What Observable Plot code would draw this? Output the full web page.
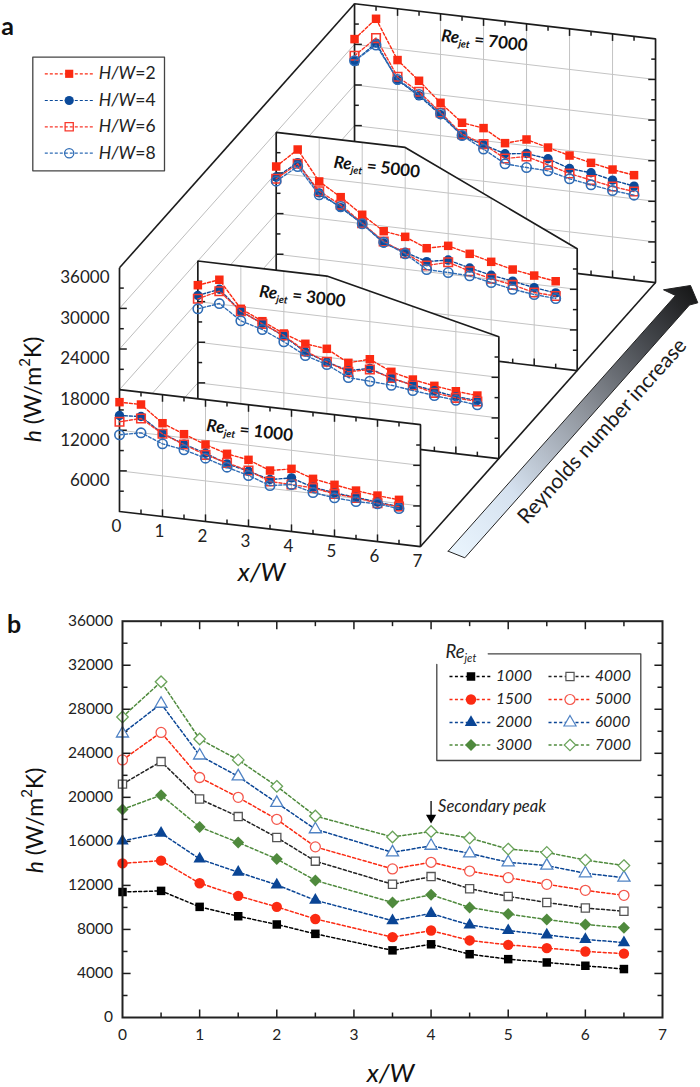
<!DOCTYPE html>
<html><head><meta charset="utf-8">
<script src="https://cdn.jsdelivr.net/npm/d3@7"></script>
<script src="https://cdn.jsdelivr.net/npm/@observablehq/plot@0.6"></script>
<style>
html,body{margin:0;padding:0;background:#fff}
#page{position:relative;width:700px;height:1087px;overflow:hidden}
#page svg{position:absolute;display:block;background:transparent;max-width:none}
</style></head><body><div id="page"></div>
<script>
// ---- panel a: x/W positions
const xTop=[0,0.5,1,1.5,2,2.5,3,3.5,4,4.5,5,5.5,6,6.5];
// ---- panel a values, h in W/m2K
const a1000hw2=[16150,16170,13780,12530,11370,10370,9850,8640,9260,8150,7640,7160,6790,6530];
const a1000hw4=[14180,14400,12260,11050,10090,8890,8170,7310,7930,6910,6450,6170,5800,5540];
const a1000hw6=[13250,14110,12220,11000,9850,9040,8270,7020,6940,6820,6310,6090,5660,5540];
const a1000hw8=[11330,11990,10740,10220,9350,8390,7530,6430,6940,6130,5720,5540,5570,5240];
const a3000hw2=[20430,21600,17680,16220,14770,13620,13250,11550,12450,10960,10190,9630,9200,8940];
const a3000hw4=[18900,20200,17300,15900,14400,12400,11300,10400,11100,10000,9400,8900,8400,8200];
const a3000hw6=[18420,19910,17330,15830,14480,12530,11330,10220,10930,10070,9310,8600,8230,8050];
const a3000hw8=[16940,18090,15910,14990,13550,11890,10930,9380,9200,8980,8570,8200,7870,7560];
const a5000hw2=[24960,27840,23490,21540,19310,17250,16790,15480,16200,15390,14580,13810,13290,12820];
const a5000hw4=[23400,25900,21800,20000,18000,15500,14520,13500,14100,13300,12600,12100,11500,11100];
const a5000hw6=[23150,25730,22050,20410,18070,15730,14370,12920,13780,12820,12070,11550,10780,10650];
const a5000hw8=[22790,25330,21520,20160,17980,15630,14280,12330,12260,12140,11520,10900,10490,10270];
const a7000hw2=[30780,34150,28420,25730,22850,20270,19850,18000,18910,18090,17280,16570,15950,15490];
const a7000hw4=[27530,30560,25460,23510,21080,18390,17390,16430,16840,16430,15360,15100,14390,13870];
const a7000hw6=[28320,31300,25950,24110,21420,18600,17490,15730,16400,15540,14620,14020,13440,13070];
const a7000hw8=[27580,30270,25550,23710,21270,18390,16750,14950,14770,14650,13840,13320,12850,12540];
const hwLabels=["*H/W*=2","*H/W*=4","*H/W*=6","*H/W*=8"];
const hwColors=["#fb2a12","#0b4a9a","#f8392c","#2f6cb5"];
const hwSymbols=["square","circle","square","circle"];
const hwFilled=[true,true,false,false];
const panelRe=[7000,5000,3000,1000];
const panelDepth=[3,2,1,0];
const panelTop=[36000,30000,24000,18000];
const panelValues=[[a7000hw2,a7000hw4,a7000hw6,a7000hw8],[a5000hw2,a5000hw4,a5000hw6,a5000hw8],[a3000hw2,a3000hw4,a3000hw6,a3000hw8],[a1000hw2,a1000hw4,a1000hw6,a1000hw8]];
const panelTitleX=[3.02,2.34,2.43,3.03];
const panelTitleH=[32760,26590,20560,14180];
// ---- panel b values
const xBottom=[0,0.5,1,1.5,2,2.5,3.5,4,4.5,5,5.5,6,6.5];
const b1000=[11400,11500,10050,9200,8450,7600,6100,6650,5750,5300,5000,4700,4400];
const b1500=[14000,14250,12200,11050,10050,8950,7300,7900,7000,6600,6300,6000,5800];
const b2000=[16050,16750,14400,13200,12050,10650,8800,9450,8400,7900,7500,7100,6800];
const b3000=[18900,20200,17300,15900,14400,12450,10450,11150,10000,9400,8900,8450,8150];
const b4000=[21200,23250,19850,18250,16350,14200,12100,12800,11700,11000,10450,9950,9650];
const b5000=[23400,25900,21800,20000,18000,15500,13500,14100,13300,12700,12100,11550,11100];
const b6000=[25800,28500,23800,21900,19500,17100,15000,15600,14900,14100,13800,13100,12700];
const b7000=[27300,30500,25300,23400,21000,18300,16400,16900,16300,15300,15000,14300,13800];
const bValues=[b1000,b1500,b2000,b3000,b4000,b5000,b6000,b7000];
const bLabels=["1000","1500","2000","3000","4000","5000","6000","7000"];
const bColors=["#000000","#fb2a12","#0a4595","#4f8a3d","#555555","#f4574c","#4f82c4","#6aa35a"];
const bLineColors=["#000000","#fb2a12","#0a4595","#4f8a3d","#222222","#fb2a12","#0a4595","#4f8a3d"];
const bSymbols=["square","circle","triangle","diamond2","square","circle","triangle","diamond2"];
const bFilled=[true,true,true,true,false,false,false,false];
const bRadius=[4.8,5.2,4.6,5.4,4.6,5,4.5,5.2];

const FONT='Lato, "Liberation Sans", sans-serif';
const INK="#1c1c1c", GRID="#c4c4c4";

// oblique projection: every panel position is (x/W, h, depth)
const PX=43, PH=0.00677;          // px per x/W unit, px per h unit
const X0=119, Y0=511, H_TOP=600;  // placement of the front origin
const slant=740, depthX=1.822, depthH=13000;
const X=(x,k)=>x+k*depthX;
const Y=(x,h,k)=>h-x*slant+k*depthH;
const P=(x,h,k)=>({X:X(x,k),Y:Y(x,h,k)});
const L=(a,b,extra={})=>({x1:X(a[0],a[2]),y1:Y(a[0],a[1],a[2]),x2:X(b[0],b[2]),y2:Y(b[0],b[1],b[2]),...extra});
const topAt=(H,x)=>H===36000||H===18000?H:(x<=3?H:H+(18000-H)*(x-3)/4);

const marks=[];
// walls
const wall=[];
for(const h of [6000,12000,18000,24000,30000]) wall.push(L([0,h,0],[0,h,3]));
marks.push(Plot.link(wall,{x1:"x1",y1:"y1",x2:"x2",y2:"y2",stroke:"#bdbdbd",strokeWidth:1}));
marks.push(Plot.link([L([0,36000,0],[0,36000,3]),L([7,0,0],[7,0,3])],{x1:"x1",y1:"y1",x2:"x2",y2:"y2",stroke:INK,strokeWidth:1.6}));

panelRe.forEach((re,pi)=>{
  const k=panelDepth[pi],H=panelTop[pi];
  const rect=H===36000||H===18000;
  const outline=(rect?[[0,0],[0,H],[7,H],[7,0],[0,0]]:[[0,0],[0,H],[3,H],[7,18000],[7,0],[0,0]]).map(([x,h])=>P(x,h,k));
  marks.push(Plot.line(outline,{x:"X",y:"Y",fill:"white",stroke:"none"}));
  // grid
  const grid=[];
  for(let h=6000;h<H;h+=6000){
    let xr=7;
    if(h>18000&&!rect) xr=3+4*(H-h)/(H-18000);
    grid.push(L([0,h,k],[xr,h,k]));
  }
  for(let x=1;x<=6;x++) grid.push(L([x,0,k],[x,topAt(H,x),k]));
  marks.push(Plot.link(grid,{x1:"x1",y1:"y1",x2:"x2",y2:"y2",stroke:GRID,strokeWidth:1}));
  // ticks
  const ticks=[];
  for(let x=0.5;x<7;x+=0.5){
    const len=Number.isInteger(x)?1050:650;
    ticks.push(L([x,0,k],[x,len,k]));
    if(rect) ticks.push(L([x,H,k],[x,H-len,k]));
  }
  for(let h=3000;h<H;h+=3000){
    const len=h%6000===0?0.17:0.1;
    ticks.push(L([0,h,k],[len,h+len*slant,k]));
  }
  const hr=rect?H:18000;
  for(let h=3000;h<hr;h+=3000){
    const len=h%6000===0?0.17:0.1;
    ticks.push(L([7,h,k],[7-len,h-len*slant,k]));
  }
  marks.push(Plot.link(ticks,{x1:"x1",y1:"y1",x2:"x2",y2:"y2",stroke:INK,strokeWidth:1.5}));
  marks.push(Plot.line(outline,{x:"X",y:"Y",stroke:INK,strokeWidth:1.7,strokeLinejoin:"miter"}));
  // series
  panelValues[pi].forEach((vals,si)=>{
    const rows=vals.map((h,i)=>P(xTop[i],h,k));
    marks.push(Plot.line(rows,{x:"X",y:"Y",stroke:hwColors[si],strokeWidth:1.4,strokeDasharray:"3,2"}));
    marks.push(Plot.dot(rows,{x:"X",y:"Y",symbol:hwSymbols[si],r:hwSymbols[si]==="square"?4.8:4.7,
      fill:hwFilled[si]?hwColors[si]:"none",stroke:hwFilled[si]?"none":hwColors[si],strokeWidth:1.6}));
  });
  marks.push(Plot.text([P(panelTitleX[pi],panelTitleH[pi],k)],{x:"X",y:"Y",text:()=>`*Re*_jet_ = ${re}`,
    rotate:6.6,fontSize:17,fontWeight:"bold",fill:"#111"}));
});
// back of the front axis
marks.push(Plot.link([L([0,18000,0],[0,36000,0])],{x1:"x1",y1:"y1",x2:"x2",y2:"y2",stroke:INK,strokeWidth:1.7}));
const backTicks=[];
for(let h=21000;h<36000;h+=3000){const len=h%6000===0?0.17:0.1;backTicks.push(L([0,h,0],[len,h+len*slant,0]));}
marks.push(Plot.link(backTicks,{x1:"x1",y1:"y1",x2:"x2",y2:"y2",stroke:INK,strokeWidth:1.5}));
// axis labels
marks.push(Plot.text([6000,12000,18000,24000,30000,36000].map(h=>({...P(0,h,0),t:String(h)})),
  {x:"X",y:"Y",text:"t",dx:-10,dy:10,textAnchor:"end",fontSize:17,fill:"#222"}));
marks.push(Plot.text(d3.range(0,8).map(x=>({...P(x,0,0),t:String(x)})),
  {x:"X",y:"Y",text:"t",dx:-3,dy:15,fontSize:17,fill:"#222"}));

const panelA=Plot.plot({width:700,height:H_TOP,margin:0,axis:null,style:{fontFamily:FONT,background:"transparent"},
  x:{domain:[-X0/PX,(700-X0)/PX],range:[0,700]},
  y:{domain:[(Y0-H_TOP)/PH,Y0/PH],range:[H_TOP,0]},
  marks});
panelA.style.left="0";panelA.style.top="0";

// ---- panel b
const B_TOP=600;
const bMarks=[];
const ticksB=[];
for(let x=0.5;x<7;x+=0.5){const l=Number.isInteger(x)?730:450;ticksB.push({x1:x,x2:x,y1:0,y2:l},{x1:x,x2:x,y1:36000,y2:36000-l});}
for(let h=2000;h<36000;h+=2000){const l=h%4000===0?0.105:0.065;ticksB.push({x1:0,x2:l,y1:h,y2:h},{x1:7,x2:7-l,y1:h,y2:h});}
bMarks.push(Plot.link(ticksB,{x1:"x1",x2:"x2",y1:"y1",y2:"y2",stroke:INK,strokeWidth:1.5}));
bMarks.push(Plot.axisX({ticks:d3.range(0,8),tickSize:0,tickPadding:11,fontSize:15.5,label:null,tickFormat:"d",fill:"#222"}));
bMarks.push(Plot.axisY({ticks:d3.range(0,36001,4000),tickSize:0,tickPadding:9.5,fontSize:15.5,label:null,tickFormat:"d",fill:"#222"}));
bValues.forEach((vals,i)=>{
  const rows=vals.map((h,j)=>({x:xBottom[j],h}));
  bMarks.push(Plot.line(rows,{x:"x",y:"h",stroke:bLineColors[i],strokeWidth:1.5,strokeDasharray:"3,2.4"}));
  bMarks.push(Plot.dot(rows,{x:"x",y:"h",symbol:bSymbols[i],r:bRadius[i],fill:bFilled[i]?bColors[i]:"white",stroke:bFilled[i]?"none":bColors[i],strokeWidth:1.3}));
});
bMarks.push(Plot.frame({stroke:"#222",strokeWidth:2}));
// secondary peak
bMarks.push(Plot.link([{x:4,a:19670,b:18200}],{x1:"x",x2:"x",y1:"a",y2:"b",stroke:"#000",strokeWidth:1.3}));
bMarks.push(Plot.dot([{x:4,h:18150}],{x:"x",y:"h",symbol:"triangle",rotate:180,r:3.8,fill:"#000",stroke:"none"}));
bMarks.push(Plot.text([{x:4,h:19180}],{x:"x",y:"h",text:()=>"Secondary peak",dx:7,textAnchor:"start",fontStyle:"italic",fontSize:16.5,fill:"#222"}));
const panelB=Plot.plot({width:700,height:487,marginLeft:122,marginRight:38,marginTop:20.7,marginBottom:70,
  style:{fontFamily:FONT,background:"transparent"},
  x:{domain:[0,7],axis:null},y:{domain:[0,36000],axis:null},marks:bMarks});
panelB.style.left="0";panelB.style.top=B_TOP+"px";

// ---- page-level annotations, in page pixels
const arrowOutline=[[447.7,550.7],[675,295],[663,289.3],[690,285],[697.3,302.3],[689,304.5],[464.3,557.3],[447.7,550.7]];
const legendABox=[[32.3,56.7],[164,56.7],[164,170.3],[32.3,170.3],[32.3,56.7]];
const legendARows=[73.3,100,126.3,152.7];
const legendBBox=[[487.7,653.3],[640.3,653.3],[640.3,760],[436.3,760],[436.3,664]];
const legendBRows=[676,699,722,744.5];
const legendBCols=[449,548];
const pt=a=>({x:a[0],y:a[1]});
const oMarks=[
  ()=>{const d=d3.create("svg:defs");const g=d.append("linearGradient").attr("id","reGrad")
       .attr("x1","0").attr("y1","1").attr("x2","1").attr("y2","0");
       [[0,"#ebf6fe"],[0.25,"#d5e1ef"],[0.55,"#8c9199"],[0.8,"#44474c"],[1,"#141414"]].forEach(([o,c])=>g.append("stop").attr("offset",o).attr("stop-color",c));
       return d.node();},
  Plot.line(arrowOutline.map(pt),{x:"x",y:"y",fill:"url(#reGrad)",stroke:"#222",strokeWidth:1}),
  Plot.text([{x:601.7,y:430.7}],{x:"x",y:"y",text:()=>"Reynolds number increase",rotate:-48,fontSize:21,fill:"#1c1c1c"}),
  Plot.text([{x:7,y:26,t:"a"},{x:13.5,y:624,t:"b"}],{x:"x",y:"y",text:"t",fontSize:25,fontWeight:"bold",fill:"#111"}),
  Plot.text([{x:261,y:572},{x:390,y:1073}],{x:"x",y:"y",text:()=>"*x/W*",fontSize:26,fill:"#111"}),
  Plot.text([{x:33,y:389},{x:35,y:820}],{x:"x",y:"y",text:()=>"*h* (W/m^2^K)",rotate:-90,fontSize:23,fill:"#111"}),
  // legend a
  Plot.line(legendABox.map(pt),{x:"x",y:"y",fill:"white",stroke:"#444",strokeWidth:1.3}),
  ...hwLabels.flatMap((t,i)=>[
    Plot.link([{a:44.3,b:92.7,y:legendARows[i]}],{x1:"a",x2:"b",y1:"y",y2:"y",stroke:hwColors[i],strokeWidth:1.2,strokeDasharray:"3,2"}),
    Plot.dot([{x:68.7,y:legendARows[i]}],{x:"x",y:"y",symbol:hwSymbols[i],r:4.6,fill:hwFilled[i]?hwColors[i]:"none",stroke:hwFilled[i]?"none":hwColors[i],strokeWidth:1.3}),
    Plot.text([{x:98.3,y:legendARows[i]}],{x:"x",y:"y",text:()=>t,textAnchor:"start",fontSize:17.5,fill:"#222"})
  ]),
  // legend b
  Plot.line(legendBBox.map(pt),{x:"x",y:"y",stroke:"#444",strokeWidth:1.3}),
  Plot.text([{x:445,y:651.7}],{x:"x",y:"y",text:()=>"*Re*_jet_",textAnchor:"start",fontSize:18.5,fill:"#222"}),
  ...bLabels.flatMap((t,i)=>{
    const c=legendBCols[Math.floor(i/4)],y=legendBRows[i%4];
    return [
      Plot.link([{a:c,b:c+43,y}],{x1:"a",x2:"b",y1:"y",y2:"y",stroke:bLineColors[i],strokeWidth:1.4,strokeDasharray:"3,2.4"}),
      Plot.dot([{x:c+21.5,y}],{x:"x",y:"y",symbol:bSymbols[i],r:bRadius[i],fill:bFilled[i]?bColors[i]:"white",stroke:bFilled[i]?"none":bColors[i],strokeWidth:1.2}),
      Plot.text([{x:c+46.5,y}],{x:"x",y:"y",text:()=>t,textAnchor:"start",fontStyle:"italic",fontSize:15.5,fill:"#222"})
    ];
  })
];
const overlay=Plot.plot({width:700,height:1087,margin:0,axis:null,style:{fontFamily:FONT,background:"transparent"},
  x:{domain:[0,700],range:[0,700]},y:{domain:[0,1087],range:[0,1087]},marks:oMarks});
overlay.style.left="0";overlay.style.top="0";

// rich text: *italic*, _subscript_, ^superscript^
function rich(root){
  root.querySelectorAll("text").forEach(t=>{
    const s=t.textContent;
    if(!/[*^_]/.test(s)) return;
    const parts=s.split(/(\*[^*]+\*|\^[^^]+\^|_[^_]+_)/).filter(p=>p!=="");
    t.textContent="";
    let back=null;
    const NS="http://www.w3.org/2000/svg";
    parts.forEach(p=>{
      const e=document.createElementNS(NS,"tspan");
      if(back!==null){e.setAttribute("dy",back);back=null;}
      if(p[0]==="*"){e.textContent=p.slice(1,-1);e.setAttribute("font-style","italic");}
      else if(p[0]==="_"){e.textContent=p.slice(1,-1);e.setAttribute("font-style","italic");e.setAttribute("font-size","60%");e.setAttribute("dy","0.35em");back="-0.21em";}
      else if(p[0]==="^"){e.textContent=p.slice(1,-1);e.setAttribute("font-size","65%");e.setAttribute("dy","-0.7em");back="0.455em";}
      else e.textContent=p;
      t.appendChild(e);
    });
  });
}
const page=document.getElementById("page");
[panelA,panelB,overlay].forEach(s=>{rich(s);page.appendChild(s);});
</script></body></html>
